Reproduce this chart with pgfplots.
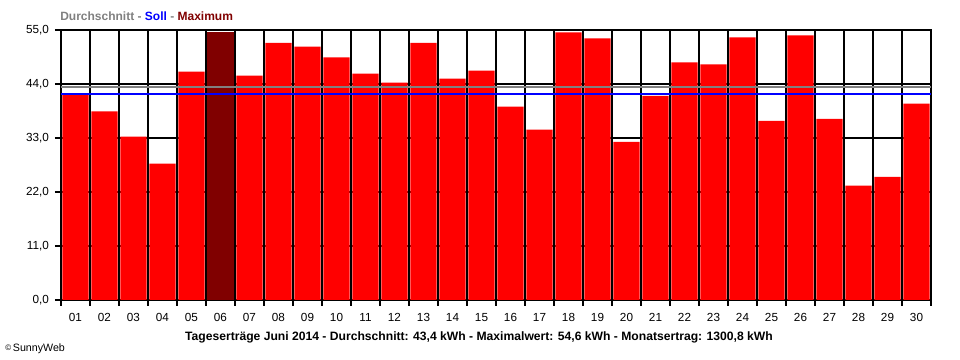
\documentclass[border=0pt]{standalone}
\usepackage{pgfplots}
\pgfplotsset{compat=1.18}
\usepackage{fontspec}
\setmainfont{Liberation Sans}
\definecolor{barred}{HTML}{FF0000}
\definecolor{maxred}{HTML}{800000}
\definecolor{avggray}{HTML}{808080}
\definecolor{sollblue}{HTML}{0000FF}
\begin{document}
\begin{tikzpicture}[x=0.75pt,y=0.75pt]
\path[use as bounding box] (0,0) rectangle (960,360);
\begin{axis}[
  at={(45.75pt,45pt)}, anchor=south west,
  scale only axis, width=652.5pt, height=202.5pt,
  xmin=0.5, xmax=30.5, ymin=0, ymax=55,
  xtick={0.5,1.5,...,30.5}, xticklabels={},
  extra x ticks={1,2,...,30},
  extra x tick labels={01,02,03,04,05,06,07,08,09,10,11,12,13,14,15,16,17,18,19,20,21,22,23,24,25,26,27,28,29,30},
  extra x tick style={grid=none, major tick length=0pt, tick label style={yshift=-6.5pt}},
  ytick={0,11,22,33,44,55},
  xtick pos=bottom, ytick pos=left,
  xmajorgrids, ymajorgrids,
  grid style={black, line width=0.8pt},
  axis line style={black, line width=0.8pt},
  tick style={black, line width=0.8pt},
  tick align=outside, major tick length=4.5pt,
  tick label style={font=\fontsize{8.8}{10}\selectfont},
  yticklabel style={xshift=-1pt},
  /pgf/number format/.cd, use comma, fixed, fixed zerofill, precision=1, assume math mode=true,
]
\addplot[ybar, bar width=0.9, bar shift=0pt, fill=barred, draw=none] coordinates {
(1,41.9) (2,38.4) (3,33.3) (4,27.8) (5,46.5) (7,45.7) (8,52.4) (9,51.6) (10,49.4)
(11,46.1) (12,44.3) (13,52.4) (14,45.1) (15,46.7) (16,39.4) (17,34.7) (18,54.5) (19,53.3) (20,32.2)
(21,41.6) (22,48.4) (23,48.0) (24,53.5) (25,36.5) (26,53.9) (27,36.9) (28,23.3) (29,25.1) (30,40.0)
};
\addplot[ybar, bar width=0.9, bar shift=0pt, fill=maxred, draw=none] coordinates {(6,54.6)};
\addplot[draw=avggray, line width=1.1pt] coordinates {(0.5,43.4) (30.5,43.4)};
\addplot[draw=sollblue, line width=1.1pt] coordinates {(0.5,42.0) (30.5,42.0)};
\end{axis}
\node[anchor=west, inner sep=0pt, font=\bfseries\fontsize{9}{10}\selectfont] at (60,344)
  {{\color{avggray}Durchschnitt -} {\color{sollblue}Soll} {\color{avggray}-} {\color{maxred}Maximum}};
\node[inner sep=0pt, font=\bfseries\fontsize{9.1}{10}\selectfont] at (479,23)
  {Tageserträge Juni 2014 - Durchschnitt: 43,4 kWh - Maximalwert: 54,6 kWh - Monatsertrag: 1300,8 kWh};
\node[anchor=west, inner sep=0pt, font=\fontsize{8}{10}\selectfont] at (5,11)
  {\raisebox{0.3ex}{\fontsize{6}{7}\selectfont ©}\,SunnyWeb};
\end{tikzpicture}
\end{document}
